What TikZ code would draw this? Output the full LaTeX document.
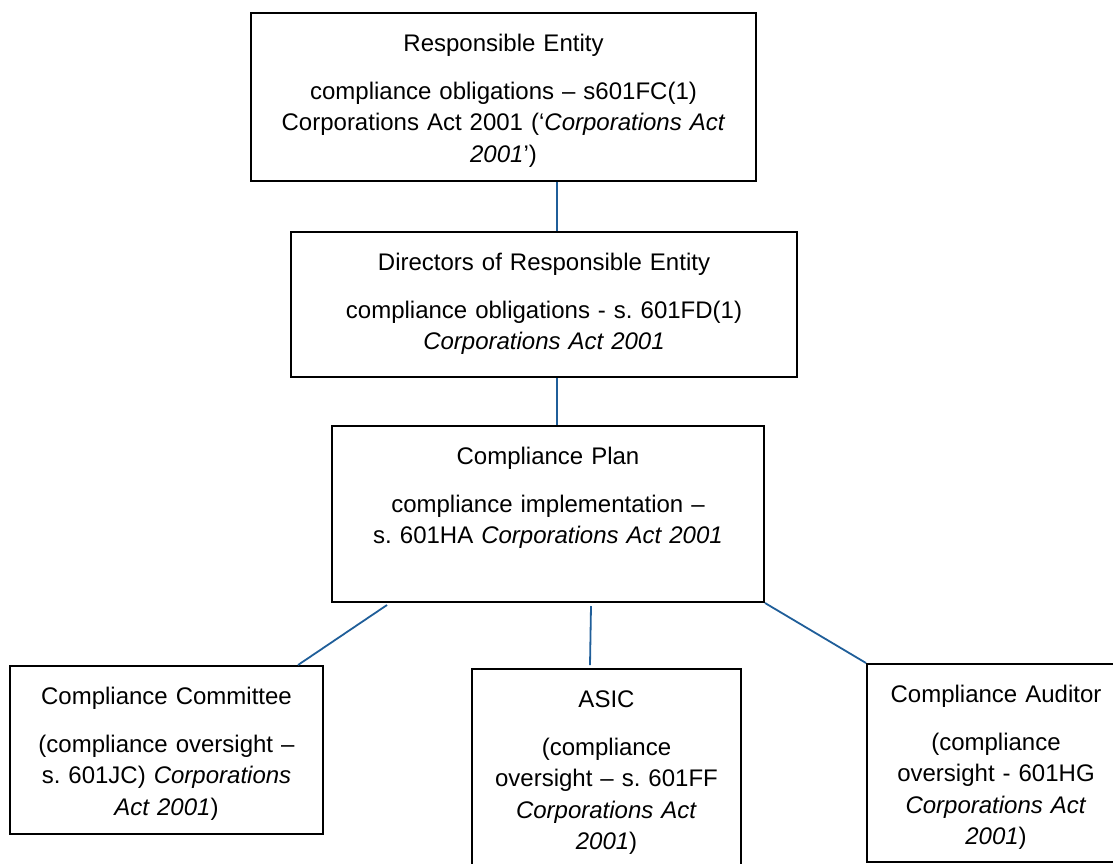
\documentclass[tikz,border=0pt]{standalone}
\usepackage{fontspec}
\setmainfont{Liberation Sans}
\frenchspacing
\definecolor{azul}{RGB}{31,94,153}

\begin{document}
\begin{tikzpicture}[x=0.5pt,y=-0.5pt,
  caja/.style={draw,line width=1pt,anchor=north west,align=center,inner xsep=3pt,inner ysep=0pt,text height=19pt,font=\fontsize{12}{15.7}\selectfont},
  enlace/.style={draw=azul,line width=0.9pt}]
  \useasboundingbox (0,0) rectangle (1113,863);
  % cajas de la cadena de cumplimiento
  \node[caja,text width=246.5pt,text depth=65pt] (re) at (250,12) {Responsible Entity\\[8.5pt]compliance obligations – s601FC(1)\\Corporations Act 2001 (‘\textit{Corporations Act}\\\textit{2001}’)};
  \node[caja,text width=247pt,text depth=53.5pt] (dir) at (290,231) {Directors of Responsible Entity\\[8.5pt]compliance obligations - s. 601FD(1)\\\textit{Corporations Act 2001}};
  \node[caja,text width=210pt,text depth=69pt] (pl) at (331,425) {Compliance Plan\\[8.5pt]compliance implementation –\\s. 601HA \textit{Corporations Act 2001}};
  % supervision
  \node[caja,text width=150.5pt,text depth=65pt] (cc) at (9,665) {Compliance Committee\\[8.5pt](compliance oversight –\\s. 601JC) \textit{Corporations}\\\textit{Act 2001})};
  \node[caja,text width=128.5pt,text depth=87pt] (as) at (471,668) {ASIC\\[8.5pt](compliance\\oversight – s. 601FF\\\textit{Corporations Act}\\\textit{2001})};
  \node[caja,text width=123pt,text depth=80pt] (au) at (866,663) {Compliance Auditor\\[8.5pt](compliance\\oversight - 601HG\\\textit{Corporations Act}\\\textit{2001})};
  % lineas de union
  \draw[enlace] ([xshift=26.75pt]re.south) -- ([xshift=6.5pt]dir.north);
  \draw[enlace] ([xshift=6.5pt]dir.south) -- ([xshift=4.5pt]pl.north);
  \draw[enlace] ([xshift=28pt,yshift=-1pt]pl.south west) -- ([xshift=-13pt]cc.north east);
  \draw[enlace] ([xshift=21.5pt,yshift=-1.5pt]pl.south) -- ([xshift=-8.25pt,yshift=1.5pt]as.north);
  \draw[enlace] (pl.south east) -- (au.north west);
\end{tikzpicture}
\end{document}
